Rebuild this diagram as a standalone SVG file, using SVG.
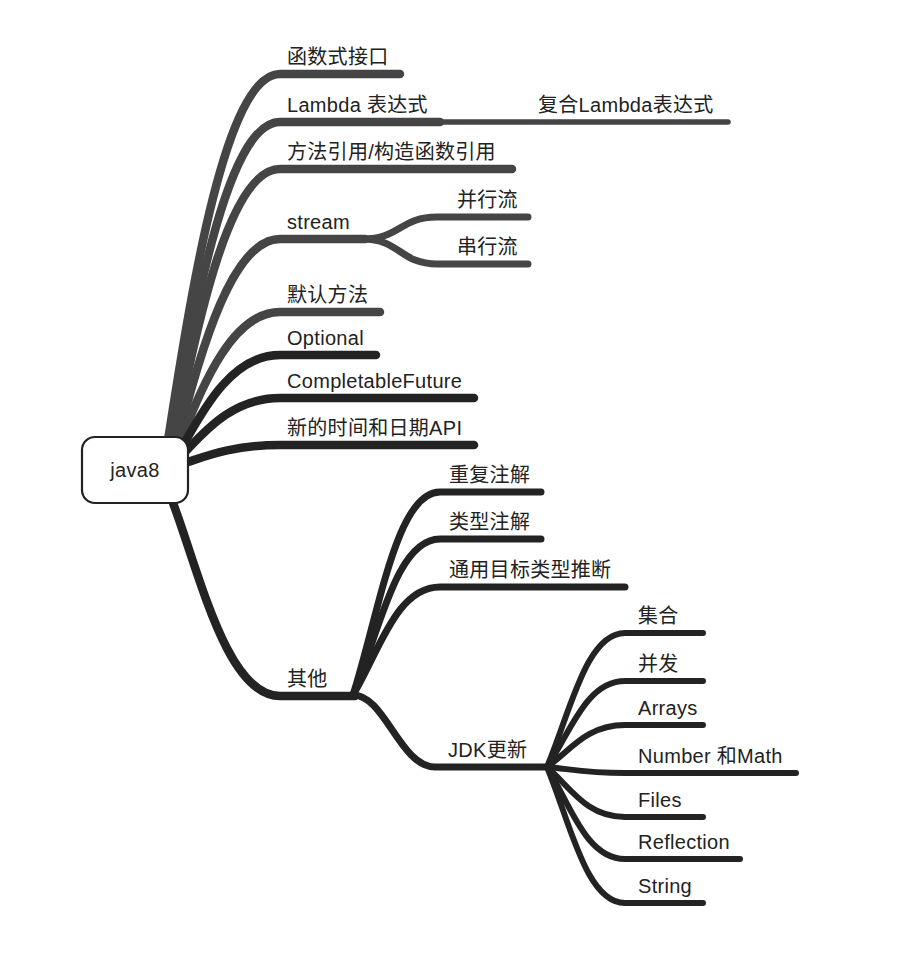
<svg xmlns="http://www.w3.org/2000/svg" width="922" height="962" viewBox="0 0 922 962">
<style>
text{font-family:"Liberation Sans","Noto Sans CJK SC",sans-serif;font-size:20px;fill:#222;letter-spacing:0.3px}
.c{fill:none;stroke-linecap:round;stroke-linejoin:round}
.g{stroke:#454545}
.k{stroke:#232323}
.w1{stroke-width:8.5}
.w2{stroke-width:7}
.w3{stroke-width:6}
.root{fill:#fff;stroke:#222;stroke-width:2.2}
</style>
<rect width="922" height="962" fill="#fff"/>
<g id="connectors">
<path class="c g w1" d="M168,440 C190,301 224,74 280,74 L400,74"/>
<path class="c g w1" d="M171,440 C193,319 226,122 280,122 L440,122"/>
<path class="c g w1" d="M174,440 C195,337 227,169 280,169 L512,169"/>
<path class="c g w1" d="M177,441 C198,364 229,239 280,239 L365,239"/>
<path class="c g w1" d="M180,442 C200,393 230,312 280,312 L380,312"/>
<path class="c k w1" d="M184,444 C203,410 232,355 280,355 L376,355"/>
<path class="c k w1" d="M187,450 C206,430 234,398 280,398 L474,398"/>
<path class="c k w1" d="M188,462 C206,456 234,445 280,445 L474,445"/>
<path class="c k w1" d="M173,503 C200,575 227,696 280,696 L355,696"/>
<path class="c g" stroke-width="5.5" d="M440,122 L728,122"/>
<path class="c g w2" d="M363,239 C400,239 400,217 437,217 L528,217"/>
<path class="c g w2" d="M363,239 C400,239 400,264 437,264 L528,264"/>
<path class="c k w2" d="M353,695 C379,614 396,492 440,492 L541,492"/>
<path class="c k w2" d="M353,695 C379,633 396,539 440,539 L541,539"/>
<path class="c k w2" d="M353,695 C379,652 396,587 440,587 L625,587"/>
<path class="c k w2" d="M353,695 C385,695 400,767 435,767 L547,767"/>
<path class="c k w3" d="M547,767 C570,713 586,633 625,633 L703,633"/>
<path class="c k w3" d="M547,767 C570,733 586,681 625,681 L703,681"/>
<path class="c k w3" d="M547,767 C570,751 586,725 625,725 L703,725"/>
<path class="c k w3" d="M547,767 C570,769 586,773 625,773 L796,773"/>
<path class="c k w3" d="M547,767 C570,787 586,817 625,817 L703,817"/>
<path class="c k w3" d="M547,767 C570,804 586,859 625,859 L740,859"/>
<path class="c k w3" d="M547,767 C570,822 586,903 625,903 L703,903"/>
</g>
<g id="root"><rect class="root" x="82" y="437" width="106" height="66" rx="13"/><text x="135" y="477" text-anchor="middle">java8</text></g>
<g id="n1"><text x="287" y="64">函数式接口</text></g>
<g id="n2"><text x="287" y="112">Lambda 表达式</text></g>
<g id="n2a"><text x="538" y="112">复合Lambda表达式</text></g>
<g id="n3"><text x="287" y="159">方法引用/构造函数引用</text></g>
<g id="n4"><text x="287" y="229">stream</text></g>
<g id="n4a"><text x="457" y="207">并行流</text></g>
<g id="n4b"><text x="457" y="254">串行流</text></g>
<g id="n5"><text x="287" y="302">默认方法</text></g>
<g id="n6"><text x="287" y="345">Optional</text></g>
<g id="n7"><text x="287" y="388">CompletableFuture</text></g>
<g id="n8"><text x="287" y="435">新的时间和日期API</text></g>
<g id="n9"><text x="287" y="686">其他</text></g>
<g id="n9a"><text x="449" y="482">重复注解</text></g>
<g id="n9b"><text x="449" y="529">类型注解</text></g>
<g id="n9c"><text x="449" y="577">通用目标类型推断</text></g>
<g id="n9d"><text x="448" y="757">JDK更新</text></g>
<g id="j1"><text x="638" y="623">集合</text></g>
<g id="j2"><text x="638" y="671">并发</text></g>
<g id="j3"><text x="638" y="715">Arrays</text></g>
<g id="j4"><text x="638" y="763">Number 和Math</text></g>
<g id="j5"><text x="638" y="807">Files</text></g>
<g id="j6"><text x="638" y="849">Reflection</text></g>
<g id="j7"><text x="638" y="893">String</text></g>
</svg>
